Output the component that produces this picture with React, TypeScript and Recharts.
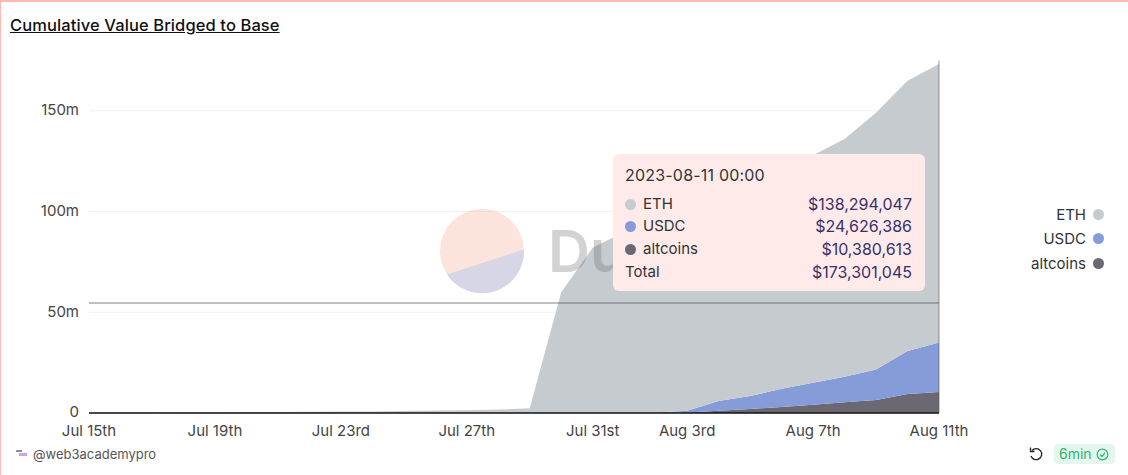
import React from "react";
import { AreaChart, Area, XAxis, YAxis, CartesianGrid, Tooltip, Legend, ReferenceLine } from "recharts";

const FONT = "Inter, 'Noto Sans', sans-serif";

const dates = [
  "Jul 15th","Jul 16th","Jul 17th","Jul 18th","Jul 19th","Jul 20th","Jul 21st","Jul 22nd","Jul 23rd","Jul 24th",
  "Jul 25th","Jul 26th","Jul 27th","Jul 28th","Jul 29th","Jul 30th","Jul 31st","Aug 1st","Aug 2nd","Aug 3rd",
  "Aug 4th","Aug 5th","Aug 6th","Aug 7th","Aug 8th","Aug 9th","Aug 10th","Aug 11th",
];
const ethValues = [0.2,0.25,0.3,0.35,0.4,0.5,0.55,0.6,0.7,0.8,1.0,1.2,1.4,1.7,2.3,60,82,90,96.7,102.9,104,107.6,110,113,118,127.4,134.2,138.294047];
const usdcValues = [0,0,0,0,0,0,0,0,0,0,0,0,0,0,0,0,0,0,0.2,0.9,4.9,6.4,9,10.9,12.7,15.2,21.4,24.626386];
const altValues = [0,0,0,0,0,0,0,0,0,0,0,0,0,0,0,0,0,0,0.1,0.2,1.1,2,3,4.1,5.3,6.4,9.4,10.380613];
const xTicks = ["Jul 15th","Jul 19th","Jul 23rd","Jul 27th","Jul 31st","Aug 3rd","Aug 7th","Aug 11th"];
const yTicks = [0, 50, 100, 150];
const gridValues = [50, 100, 150];
const hoverY = 54.6;
const tooltipTitle = "2023-08-11 00:00";
const tooltipTotal = "$173,301,045";
const tooltipRows = [
  { name: "ETH", color: "#c6cbcf", value: "$138,294,047" },
  { name: "USDC", color: "#859cd9", value: "$24,626,386" },
  { name: "altcoins", color: "#6b6872", value: "$10,380,613" },
];

const data = dates.map((date, i) => ({ date, ETH: ethValues[i], USDC: usdcValues[i], altcoins: altValues[i] }));

const TipContent = () => (
  <div style={{ width: 312, height: 137, boxSizing: "border-box", background: "#ffeaea", borderRadius: 6, padding: "10px 13px 0 12px", fontFamily: FONT, fontSize: 15, color: "#333", lineHeight: "22.7px" }}>
    <div style={{ marginBottom: 6, fontSize: 16, letterSpacing: 0.2 }}>{tooltipTitle}</div>
    {tooltipRows.map((r) => (
      <div key={r.name} style={{ display: "flex", alignItems: "center" }}>
        <span style={{ width: 11, height: 11, borderRadius: "50%", background: r.color, marginRight: 7 }} />
        <span style={{ flex: 1 }}>{r.name}</span>
        <span style={{ color: "#37306b", fontSize: 16 }}>{r.value}</span>
      </div>
    ))}
    <div style={{ display: "flex" }}>
      <span style={{ flex: 1 }}>Total</span>
      <span style={{ color: "#37306b", fontSize: 16 }}>{tooltipTotal}</span>
    </div>
  </div>
);

const LegendContent = () => (
  <div style={{ fontFamily: FONT, fontSize: 15, color: "#333" }}>
    {tooltipRows.map((r) => (
      <div key={r.name} style={{ display: "flex", alignItems: "center", justifyContent: "flex-end", height: 24.5 }}>
        <span>{r.name}</span>
        <span style={{ width: 11, height: 11, borderRadius: "50%", background: r.color, marginLeft: 7 }} />
      </div>
    ))}
  </div>
);

export default function App() {
  return (
    <div style={{ position: "relative", width: 1128, height: 475, background: "#fff", overflow: "hidden", fontFamily: FONT }}>
      <style>{"body{margin:0}"}</style>
      <div style={{ position: "absolute", left: 0, top: 0, width: 1128, height: 475, boxSizing: "border-box", borderTop: "2px solid #ffb9b1", borderLeft: "1.5px solid #ffb9b1" }} />
      <div style={{ position: "absolute", left: 10, top: 13, fontSize: 16.5, fontWeight: 500, color: "#111", textDecoration: "underline", lineHeight: "24px", letterSpacing: 0.1 }}>
        Cumulative Value Bridged to Base
      </div>
      <div style={{ position: "absolute", left: 0, top: 0 }}>
        <AreaChart width={1128} height={475} data={data} margin={{ top: 60.5, right: 69, bottom: 0, left: 0 }}>
          <CartesianGrid horizontal vertical={false} stroke="#f0f0f0" horizontalValues={gridValues} />
          <XAxis dataKey="date" ticks={xTicks} interval={0} axisLine={{ stroke: "#111", strokeWidth: 1.5 }} tickLine={false} height={62} tickMargin={6} tick={{ fill: "#444", fontSize: 15, fontFamily: FONT }} />
          <YAxis width={89} domain={[0, 175]} ticks={yTicks} allowDataOverflow axisLine={false} tickLine={false} tickMargin={4} dy={-1} tickFormatter={(v: number) => (v === 0 ? "0" : `${v}m`)} tick={{ fill: "#444", fontSize: 15, fontFamily: FONT }} />
          <Area type="linear" dataKey="altcoins" stackId="1" stroke="none" fill="#6b6872" fillOpacity={1} isAnimationActive={false} activeDot={false} />
          <Area type="linear" dataKey="USDC" stackId="1" stroke="none" fill="#859cd9" fillOpacity={1} isAnimationActive={false} activeDot={false} />
          <Area type="linear" dataKey="ETH" stackId="1" stroke="none" fill="#c6cbcf" fillOpacity={1} isAnimationActive={false} activeDot={false} />
          <ReferenceLine y={hoverY} stroke="#555" strokeOpacity={0.5} strokeWidth={1.5} />
          <ReferenceLine x="Aug 11th" stroke="#555" strokeOpacity={0.3} strokeWidth={2} />
          <Legend layout="vertical" align="right" verticalAlign="top" content={<LegendContent />} wrapperStyle={{ position: "absolute", right: 24, top: 202, left: "auto", width: 120 }} />
          <Tooltip active defaultIndex={dates.length - 1} cursor={false} position={{ x: 613, y: 154 }} allowEscapeViewBox={{ x: true, y: true }} isAnimationActive={false} content={<TipContent />} wrapperStyle={{ zIndex: 5 }} />
        </AreaChart>
      </div>
      <svg width={1128} height={475} style={{ position: "absolute", left: 0, top: 0, pointerEvents: "none", zIndex: 2 }}>
        <g opacity={0.3}>
          <circle cx={482} cy={251} r={42} fill="#f6a48e" />
          <path d="M 524 249.5 A 42 42 0 0 1 447 274.5 Z" fill="#7b7bb0" />
          <text x={548} y={272} fontFamily={FONT} fontSize={58} fontWeight={600} fill="#6e6e6e">Du</text>
        </g>
      </svg>
      <div style={{ position: "absolute", left: 33, top: 445, fontSize: 13, color: "#555", lineHeight: "18px" }}>@web3academypro</div>
      <svg width={14} height={10} style={{ position: "absolute", left: 15, top: 449 }}>
        <rect x={1} y={1} width={6} height={2} fill="#8d8aa0" />
        <rect x={4} y={4} width={8} height={3} fill="#c6a6e8" />
      </svg>
      <svg width={16} height={16} viewBox="0 0 16 16" style={{ position: "absolute", left: 1028, top: 446 }}>
        <path d="M4 4.5 A5.5 5.5 0 1 1 3 10" fill="none" stroke="#222" strokeWidth={1.3} />
        <path d="M2.5 1.5 V5.5 H6.5" fill="none" stroke="#222" strokeWidth={1.3} />
      </svg>
      <div style={{ position: "absolute", left: 1054, top: 444, width: 61, height: 20, borderRadius: 4, background: "#e5f7ed", color: "#2bb673", fontSize: 14, lineHeight: "20px", paddingLeft: 5, boxSizing: "border-box" }}>
        6min
        <svg width={13} height={13} viewBox="0 0 13 13" style={{ position: "absolute", right: 6, top: 3.5 }}>
          <circle cx={6.5} cy={6.5} r={5.3} fill="none" stroke="#2bb673" strokeWidth={1.2} />
          <path d="M4 6.5 L6 8.5 L9 4.8" fill="none" stroke="#2bb673" strokeWidth={1.2} />
        </svg>
      </div>
    </div>
  );
}
